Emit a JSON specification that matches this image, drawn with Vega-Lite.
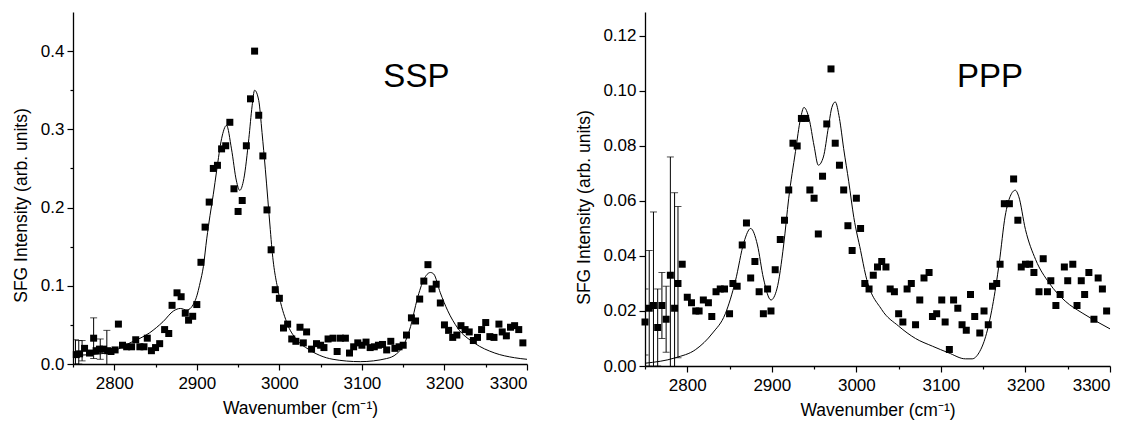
{
  "$schema": "https://vega.github.io/schema/vega-lite/v6.json",
  "padding": {"left": 12, "top": 12, "right": 5, "bottom": 5},
  "spacing": 46,
  "config": {
    "font": "Liberation Sans",
    "view": {"stroke": null},
    "axis": {"grid": false, "domainColor": "black", "domainWidth": 1.3, "tickColor": "black", "tickWidth": 1.2, "labelColor": "black", "titleColor": "black", "labelFont": "Liberation Sans", "titleFont": "Liberation Sans", "labelFontSize": 17, "titleFontSize": 17.5, "titleFontWeight": "normal", "labelPadding": 3}
  },
  "datasets": {
    "ssp": [
      {"x":2754,"y":0.012},{"x":2758,"y":0.013},{"x":2764,"y":0.020},{"x":2770,"y":0.014},{"x":2775,"y":0.033},{"x":2778,"y":0.017},{"x":2782,"y":0.019},{"x":2787,"y":0.019},{"x":2792,"y":0.017},{"x":2796,"y":0.016},{"x":2801,"y":0.018},{"x":2805,"y":0.051},{"x":2810,"y":0.024},{"x":2815,"y":0.022},{"x":2821,"y":0.022},{"x":2826,"y":0.031},{"x":2831,"y":0.022},{"x":2836,"y":0.022},{"x":2840,"y":0.033},{"x":2845,"y":0.017},{"x":2850,"y":0.021},{"x":2855,"y":0.026},{"x":2861,"y":0.044},{"x":2866,"y":0.039},{"x":2870,"y":0.075},{"x":2876,"y":0.091},{"x":2881,"y":0.086},{"x":2886,"y":0.065},{"x":2890,"y":0.056},{"x":2895,"y":0.061},{"x":2900,"y":0.076},{"x":2905,"y":0.130},{"x":2910,"y":0.175},{"x":2915,"y":0.207},{"x":2920,"y":0.250},{"x":2925,"y":0.254},{"x":2930,"y":0.275},{"x":2935,"y":0.279},{"x":2940,"y":0.309},{"x":2945,"y":0.224},{"x":2950,"y":0.195},{"x":2955,"y":0.209},{"x":2960,"y":0.279},{"x":2965,"y":0.339},{"x":2970,"y":0.400},{"x":2975,"y":0.318},{"x":2980,"y":0.266},{"x":2985,"y":0.197},{"x":2990,"y":0.146},{"x":2995,"y":0.095},{"x":3000,"y":0.084},{"x":3005,"y":0.046},{"x":3010,"y":0.051},{"x":3015,"y":0.032},{"x":3020,"y":0.029},{"x":3025,"y":0.047},{"x":3029,"y":0.027},{"x":3033,"y":0.041},{"x":3039,"y":0.019},{"x":3045,"y":0.026},{"x":3050,"y":0.024},{"x":3054,"y":0.021},{"x":3059,"y":0.032},{"x":3065,"y":0.033},{"x":3070,"y":0.016},{"x":3074,"y":0.033},{"x":3080,"y":0.033},{"x":3085,"y":0.014},{"x":3090,"y":0.022},{"x":3095,"y":0.027},{"x":3100,"y":0.024},{"x":3105,"y":0.028},{"x":3110,"y":0.021},{"x":3115,"y":0.022},{"x":3120,"y":0.024},{"x":3125,"y":0.025},{"x":3130,"y":0.018},{"x":3135,"y":0.029},{"x":3140,"y":0.020},{"x":3145,"y":0.022},{"x":3150,"y":0.024},{"x":3154,"y":0.037},{"x":3160,"y":0.059},{"x":3165,"y":0.055},{"x":3170,"y":0.083},{"x":3175,"y":0.106},{"x":3180,"y":0.127},{"x":3185,"y":0.096},{"x":3190,"y":0.102},{"x":3195,"y":0.078},{"x":3200,"y":0.050},{"x":3205,"y":0.043},{"x":3210,"y":0.034},{"x":3215,"y":0.037},{"x":3220,"y":0.049},{"x":3225,"y":0.044},{"x":3230,"y":0.041},{"x":3235,"y":0.030},{"x":3240,"y":0.034},{"x":3245,"y":0.044},{"x":3250,"y":0.053},{"x":3255,"y":0.035},{"x":3260,"y":0.034},{"x":3266,"y":0.051},{"x":3270,"y":0.041},{"x":3275,"y":0.036},{"x":3280,"y":0.047},{"x":3285,"y":0.049},{"x":3290,"y":0.044},{"x":3295,"y":0.027}
    ],
    "sspErr": [
      {"x":2753,"lo":0.000,"hi":0.031},{"x":2757,"lo":0.000,"hi":0.030},{"x":2761,"lo":0.004,"hi":0.030},{"x":2775,"lo":0.007,"hi":0.059},{"x":2783,"lo":0.006,"hi":0.032},{"x":2791,"lo":-0.008,"hi":0.043}
    ],
    "sspFit": [
      {"x":2750,"y":0.011},{"x":2791,"y":0.014},{"x":2819,"y":0.027},{"x":2843,"y":0.040},{"x":2859,"y":0.054},{"x":2872,"y":0.068},{"x":2880,"y":0.071},{"x":2888,"y":0.069},{"x":2898,"y":0.081},{"x":2904,"y":0.104},{"x":2908,"y":0.125},{"x":2912,"y":0.160},{"x":2916,"y":0.190},{"x":2920,"y":0.217},{"x":2924,"y":0.247},{"x":2930,"y":0.288},{"x":2936,"y":0.305},{"x":2942,"y":0.275},{"x":2948,"y":0.234},{"x":2952,"y":0.222},{"x":2957,"y":0.237},{"x":2963,"y":0.288},{"x":2967,"y":0.330},{"x":2970,"y":0.350},{"x":2975,"y":0.337},{"x":2979,"y":0.296},{"x":2983,"y":0.249},{"x":2989,"y":0.172},{"x":2991,"y":0.147},{"x":2999,"y":0.091},{"x":3009,"y":0.053},{"x":3021,"y":0.031},{"x":3035,"y":0.019},{"x":3049,"y":0.011},{"x":3065,"y":0.006},{"x":3098,"y":0.003},{"x":3130,"y":0.007},{"x":3142,"y":0.013},{"x":3150,"y":0.023},{"x":3159,"y":0.048},{"x":3167,"y":0.083},{"x":3175,"y":0.108},{"x":3183,"y":0.117},{"x":3187,"y":0.115},{"x":3195,"y":0.091},{"x":3204,"y":0.068},{"x":3216,"y":0.046},{"x":3236,"y":0.027},{"x":3261,"y":0.014},{"x":3285,"y":0.008},{"x":3300,"y":0.006}
    ],
    "sspLabel": [{"x":3126,"y":0.354,"label":"SSP"}],
    "ppp": [
      {"x":2750,"y":0.016},{"x":2755,"y":0.021},{"x":2760,"y":0.022},{"x":2765,"y":0.014},{"x":2770,"y":0.022},{"x":2775,"y":0.017},{"x":2780,"y":0.033},{"x":2785,"y":0.021},{"x":2789,"y":0.030},{"x":2794,"y":0.037},{"x":2800,"y":0.025},{"x":2805,"y":0.023},{"x":2810,"y":0.020},{"x":2814,"y":0.020},{"x":2819,"y":0.024},{"x":2825,"y":0.023},{"x":2829,"y":0.018},{"x":2834,"y":0.027},{"x":2839,"y":0.028},{"x":2844,"y":0.028},{"x":2850,"y":0.019},{"x":2854,"y":0.030},{"x":2859,"y":0.029},{"x":2865,"y":0.044},{"x":2870,"y":0.052},{"x":2875,"y":0.032},{"x":2880,"y":0.038},{"x":2885,"y":0.027},{"x":2890,"y":0.019},{"x":2895,"y":0.028},{"x":2899,"y":0.020},{"x":2904,"y":0.035},{"x":2910,"y":0.046},{"x":2915,"y":0.053},{"x":2920,"y":0.064},{"x":2925,"y":0.081},{"x":2930,"y":0.080},{"x":2935,"y":0.090},{"x":2940,"y":0.090},{"x":2945,"y":0.064},{"x":2950,"y":0.061},{"x":2955,"y":0.048},{"x":2960,"y":0.069},{"x":2965,"y":0.088},{"x":2970,"y":0.108},{"x":2975,"y":0.081},{"x":2980,"y":0.073},{"x":2985,"y":0.064},{"x":2990,"y":0.051},{"x":2995,"y":0.042},{"x":3000,"y":0.061},{"x":3005,"y":0.050},{"x":3010,"y":0.030},{"x":3015,"y":0.028},{"x":3020,"y":0.033},{"x":3025,"y":0.036},{"x":3030,"y":0.038},{"x":3035,"y":0.036},{"x":3040,"y":0.028},{"x":3045,"y":0.027},{"x":3050,"y":0.019},{"x":3055,"y":0.016},{"x":3060,"y":0.028},{"x":3065,"y":0.030},{"x":3070,"y":0.015},{"x":3075,"y":0.024},{"x":3080,"y":0.032},{"x":3086,"y":0.034},{"x":3090,"y":0.018},{"x":3095,"y":0.019},{"x":3101,"y":0.024},{"x":3105,"y":0.016},{"x":3110,"y":0.006},{"x":3115,"y":0.024},{"x":3120,"y":0.021},{"x":3125,"y":0.015},{"x":3130,"y":0.013},{"x":3135,"y":0.026},{"x":3140,"y":0.018},{"x":3146,"y":0.012},{"x":3151,"y":0.020},{"x":3156,"y":0.015},{"x":3161,"y":0.029},{"x":3166,"y":0.030},{"x":3170,"y":0.037},{"x":3175,"y":0.059},{"x":3181,"y":0.059},{"x":3186,"y":0.068},{"x":3191,"y":0.053},{"x":3195,"y":0.036},{"x":3200,"y":0.037},{"x":3205,"y":0.037},{"x":3210,"y":0.034},{"x":3216,"y":0.027},{"x":3221,"y":0.039},{"x":3226,"y":0.027},{"x":3230,"y":0.031},{"x":3236,"y":0.022},{"x":3241,"y":0.026},{"x":3246,"y":0.036},{"x":3250,"y":0.031},{"x":3256,"y":0.037},{"x":3261,"y":0.022},{"x":3266,"y":0.031},{"x":3270,"y":0.026},{"x":3275,"y":0.034},{"x":3281,"y":0.017},{"x":3286,"y":0.032},{"x":3291,"y":0.028},{"x":3296,"y":0.020}
    ],
    "pppErr": [
      {"x":2750,"lo":0.004,"hi":0.028},{"x":2755,"lo":0.000,"hi":0.042},{"x":2760,"lo":-0.012,"hi":0.056},{"x":2765,"lo":0.000,"hi":0.028},{"x":2770,"lo":0.010,"hi":0.034},{"x":2775,"lo":0.005,"hi":0.029},{"x":2780,"lo":-0.010,"hi":0.076},{"x":2785,"lo":-0.021,"hi":0.063},{"x":2789,"lo":0.003,"hi":0.058}
    ],
    "pppFit": [
      {"x":2750,"y":0.001},{"x":2786,"y":0.003},{"x":2810,"y":0.006},{"x":2830,"y":0.012},{"x":2845,"y":0.019},{"x":2857,"y":0.031},{"x":2867,"y":0.045},{"x":2875,"y":0.050},{"x":2883,"y":0.044},{"x":2890,"y":0.032},{"x":2899,"y":0.024},{"x":2906,"y":0.028},{"x":2914,"y":0.044},{"x":2920,"y":0.061},{"x":2928,"y":0.078},{"x":2934,"y":0.090},{"x":2938,"y":0.094},{"x":2944,"y":0.090},{"x":2950,"y":0.080},{"x":2955,"y":0.073},{"x":2961,"y":0.076},{"x":2967,"y":0.087},{"x":2971,"y":0.094},{"x":2975,"y":0.096},{"x":2980,"y":0.090},{"x":2985,"y":0.079},{"x":2991,"y":0.067},{"x":2997,"y":0.054},{"x":3005,"y":0.042},{"x":3011,"y":0.033},{"x":3030,"y":0.0205},{"x":3050,"y":0.0145},{"x":3070,"y":0.010},{"x":3090,"y":0.0072},{"x":3109,"y":0.0048},{"x":3129,"y":0.0026},{"x":3137,"y":0.0026},{"x":3145,"y":0.0048},{"x":3153,"y":0.0108},{"x":3161,"y":0.0217},{"x":3169,"y":0.0375},{"x":3176,"y":0.0545},{"x":3182,"y":0.0617},{"x":3188,"y":0.0639},{"x":3192,"y":0.0617},{"x":3200,"y":0.0496},{"x":3212,"y":0.0387},{"x":3228,"y":0.0302},{"x":3247,"y":0.0236},{"x":3267,"y":0.0193},{"x":3287,"y":0.0157},{"x":3300,"y":0.0135}
    ],
    "pppLabel": [{"x":3119,"y":0.1016,"label":"PPP"}]
  },
  "hconcat": [
    {
      "width": 454,
      "height": 352,
      "encoding": {
        "x": {"type": "quantitative", "scale": {"domain": [2750, 3300], "nice": false, "zero": false},
          "axis": {"title": "Wavenumber (cm⁻¹)", "values": [2750,2800,2850,2900,2950,3000,3050,3100,3150,3200,3250,3300], "format": "d", "labelExpr": "datum.value % 100 === 0 ? datum.label : ''", "tickSize": {"condition": {"test": "datum.value % 100 === 0", "value": 6}, "value": 3}, "labelPadding": 5, "titlePadding": 8}}
      },
      "layer": [
        {
          "data": {"name": "sspErr"},
          "mark": {"type": "rule", "color": "black", "strokeWidth": 1, "clip": true},
          "encoding": {"x": {"field": "x"}, "y": {"field": "lo", "type": "quantitative", "scale": {"domain": [0, 0.45], "nice": false}}, "y2": {"field": "hi"}}
        },
        {
          "data": {"name": "sspErr"},
          "mark": {"type": "tick", "orient": "horizontal", "color": "black", "size": 7, "thickness": 1, "clip": true},
          "encoding": {"x": {"field": "x"}, "y": {"field": "hi", "type": "quantitative"}}
        },
        {
          "data": {"name": "sspErr"},
          "mark": {"type": "tick", "orient": "horizontal", "color": "black", "size": 7, "thickness": 1, "clip": true},
          "encoding": {"x": {"field": "x"}, "y": {"field": "lo", "type": "quantitative"}}
        },
        {
          "data": {"name": "sspFit"},
          "mark": {"type": "line", "color": "black", "strokeWidth": 1, "interpolate": "monotone"},
          "encoding": {"x": {"field": "x"}, "y": {"field": "y", "type": "quantitative"}}
        },
        {
          "data": {"name": "ssp"},
          "mark": {"type": "point", "shape": "square", "filled": true, "color": "black", "opacity": 1, "size": 49},
          "encoding": {"x": {"field": "x"}, "y": {"field": "y", "type": "quantitative",
            "axis": {"title": "SFG Intensity (arb. units)", "titleY": 193, "values": [0,0.05,0.1,0.15,0.2,0.25,0.3,0.35,0.4], "format": ".1f", "labelExpr": "round(datum.value*100) % 10 === 0 ? datum.label : ''", "tickSize": {"condition": {"test": "round(datum.value*100) % 10 === 0", "value": 6}, "value": 3}, "titlePadding": 10}}}
        },
        {
          "data": {"name": "sspLabel"},
          "mark": {"type": "text", "align": "left", "baseline": "alphabetic", "fontSize": 33, "font": "Liberation Sans", "color": "black"},
          "encoding": {"x": {"field": "x"}, "y": {"field": "y", "type": "quantitative"}, "text": {"field": "label"}}
        }
      ]
    },
    {
      "width": 465,
      "height": 354,
      "encoding": {
        "x": {"type": "quantitative", "scale": {"domain": [2750, 3300], "nice": false, "zero": false},
          "axis": {"title": "Wavenumber (cm⁻¹)", "values": [2750,2800,2850,2900,2950,3000,3050,3100,3150,3200,3250,3300], "format": "d", "labelExpr": "datum.value % 100 === 0 ? datum.label : ''", "tickSize": {"condition": {"test": "datum.value % 100 === 0", "value": 6}, "value": 3}, "labelPadding": 5, "titlePadding": 8}}
      },
      "layer": [
        {
          "data": {"name": "pppErr"},
          "mark": {"type": "rule", "color": "black", "strokeWidth": 1, "clip": true},
          "encoding": {"x": {"field": "x"}, "y": {"field": "lo", "type": "quantitative", "scale": {"domain": [0, 0.1287], "nice": false}}, "y2": {"field": "hi"}}
        },
        {
          "data": {"name": "pppErr"},
          "mark": {"type": "tick", "orient": "horizontal", "color": "black", "size": 7, "thickness": 1, "clip": true},
          "encoding": {"x": {"field": "x"}, "y": {"field": "hi", "type": "quantitative"}}
        },
        {
          "data": {"name": "pppErr"},
          "mark": {"type": "tick", "orient": "horizontal", "color": "black", "size": 7, "thickness": 1, "clip": true},
          "encoding": {"x": {"field": "x"}, "y": {"field": "lo", "type": "quantitative"}}
        },
        {
          "data": {"name": "pppFit"},
          "mark": {"type": "line", "color": "black", "strokeWidth": 1, "interpolate": "monotone"},
          "encoding": {"x": {"field": "x"}, "y": {"field": "y", "type": "quantitative"}}
        },
        {
          "data": {"name": "ppp"},
          "mark": {"type": "point", "shape": "square", "filled": true, "color": "black", "opacity": 1, "size": 49},
          "encoding": {"x": {"field": "x"}, "y": {"field": "y", "type": "quantitative",
            "axis": {"title": "SFG Intensity (arb. units)", "titleY": 195, "values": [0,0.01,0.02,0.03,0.04,0.05,0.06,0.07,0.08,0.09,0.1,0.11,0.12], "format": ".2f", "labelExpr": "round(datum.value*100) % 2 === 0 ? datum.label : ''", "tickSize": {"condition": {"test": "round(datum.value*100) % 2 === 0", "value": 6}, "value": 3}, "titlePadding": 9}}}
        },
        {
          "data": {"name": "pppLabel"},
          "mark": {"type": "text", "align": "left", "baseline": "alphabetic", "fontSize": 33, "font": "Liberation Sans", "color": "black"},
          "encoding": {"x": {"field": "x"}, "y": {"field": "y", "type": "quantitative"}, "text": {"field": "label"}}
        }
      ]
    }
  ]
}
